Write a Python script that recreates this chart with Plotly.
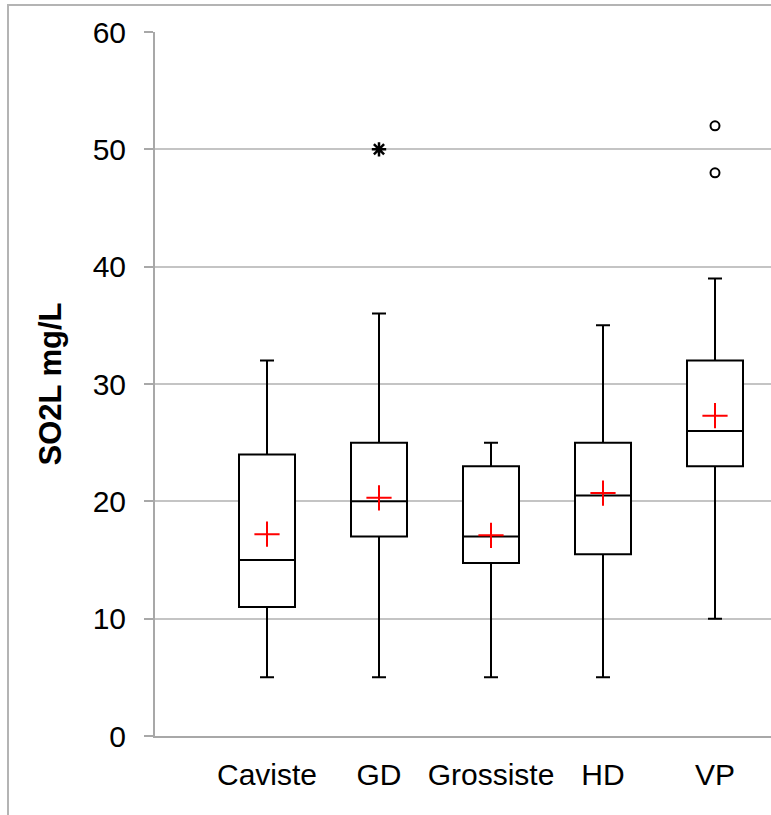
import plotly.graph_objects as go

categories = ["Caviste", "GD", "Grossiste", "HD", "VP"]
q1 = [11, 17, 14.75, 15.5, 23]
median = [15, 20, 17, 20.5, 26]
q3 = [24, 25, 23, 25, 32]
lower = [5, 5, 5, 5, 10]
upper = [32, 36, 25, 35, 39]
means = [17.2, 20.3, 17.1, 20.7, 27.3]
extreme_cat = [1]
extreme_val = [50]
outlier_cat = [4, 4]
outlier_val = [48, 52]

xpos = list(range(len(categories)))

fig = go.Figure()
fig.add_trace(go.Box(
    x=xpos, q1=q1, median=median, q3=q3, lowerfence=lower, upperfence=upper,
    boxpoints=False, width=0.5, whiskerwidth=0.25,
    fillcolor="white", line=dict(color="black", width=2), showlegend=False,
))
fig.add_trace(go.Scatter(
    x=xpos, y=means, mode="markers", showlegend=False,
    marker=dict(symbol="cross-thin", size=18, line=dict(color="red", width=2), color="red"),
))
fig.add_trace(go.Scatter(
    x=extreme_cat, y=extreme_val, mode="markers", showlegend=False,
    marker=dict(symbol="asterisk-open", size=12, line=dict(color="black", width=2.5), color="black"),
))
fig.add_trace(go.Scatter(
    x=outlier_cat, y=outlier_val, mode="markers", showlegend=False,
    marker=dict(symbol="circle-open", size=9, line=dict(color="black", width=2), color="black"),
))

W, H = 771, 815
L, T, B = 155, 32, 736
pw, ph = W - L, B - T
fig.add_shape(type="rect", xref="paper", yref="paper",
              x0=(8 - L) / pw, x1=(790 - L) / pw,
              y0=(B - 840) / ph, y1=(B - 5) / ph,
              line=dict(color="#b4b4b4", width=2), fillcolor="rgba(0,0,0,0)", layer="below")

fig.update_layout(
    width=W, height=H, margin=dict(l=L, r=0, t=T, b=H - B),
    plot_bgcolor="white", paper_bgcolor="white",
    font=dict(family="Liberation Sans, Arial, sans-serif", size=30, color="black"),
    xaxis=dict(range=[-1, 4.5], tickvals=xpos, ticktext=categories, showgrid=False,
               zeroline=False, showline=True, linecolor="#a8a8a8", linewidth=2,
               ticks="", ticklabelstandoff=11, tickfont=dict(size=30)),
    yaxis=dict(range=[0, 60], dtick=10, showgrid=True, gridcolor="#c4c4c4", gridwidth=2,
               zeroline=False, showline=True, linecolor="#a8a8a8", linewidth=2,
               ticks="outside", ticklen=9, tickcolor="#a8a8a8", tickwidth=2,
               ticklabelstandoff=12, tickfont=dict(size=30),
               title=dict(text="<b>SO2L mg/L</b>", font=dict(size=31), standoff=22)),
)

fig.write_html("out.html", config={"displayModeBar": False},
               post_script="document.body.style.margin='0';document.body.style.overflow='hidden';")
